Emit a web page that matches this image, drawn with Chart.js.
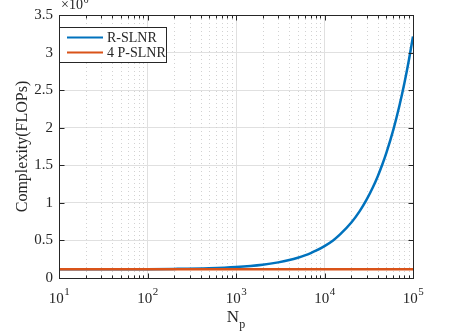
<!DOCTYPE html>
<html>
<head>
<meta charset="utf-8">
<script src="https://cdn.jsdelivr.net/npm/chart.js@4"></script>
<style>
html, body { margin: 0; padding: 0; background: #fff; }
#wrap { width: 457px; height: 334px; }
</style>
</head>
<body>
<div id="wrap"><canvas id="complexityChart" width="457" height="334"></canvas></div>
<script>
// N_p sample points
const npValues = [10, 20, 50, 100, 200, 500, 1000, 2000, 3000, 4000, 5000, 6000, 7000, 8000,
    10000, 12500, 15000, 20000, 25000, 30000, 35000, 40000, 45000, 50000,
    60000, 70000, 80000, 90000, 100000];
// complexity in units of 10^6 FLOPs
const rSlnr = [0.115, 0.116, 0.117, 0.118, 0.121, 0.130, 0.146, 0.177, 0.208, 0.239, 0.270, 0.301, 0.332, 0.363,
    0.425, 0.500, 0.580, 0.735, 0.890, 1.045, 1.200, 1.355, 1.510, 1.665,
    1.975, 2.285, 2.595, 2.905, 3.215];
const pSlnr = [0.115, 0.115, 0.115, 0.115, 0.115, 0.115, 0.115, 0.115, 0.115, 0.115, 0.115, 0.115, 0.115, 0.115,
    0.115, 0.115, 0.115, 0.115, 0.115, 0.115, 0.115, 0.115, 0.115, 0.115,
    0.115, 0.115, 0.115, 0.115, 0.115];
const seriesNames = ['R-SLNR', '4 P-SLNR'];
const seriesColors = ['#0072BD', '#D95319'];
const xDecades = [10, 100, 1000, 10000, 100000];
const xExponents = ['1', '2', '3', '4', '5'];
const yTickStep = 0.5;

const SERIF = '"Liberation Serif", "DejaVu Serif", serif';
const AXIS_COLOR = '#262626';

function toPoints(values) {
    return npValues.map((n, i) => ({ x: n, y: values[i] }));
}

// draws box, ticks, minor grid, labels and the legend
const matlabLook = {
    id: 'matlabLook',
    beforeDraw(chart) {
        const ctx = chart.ctx;
        ctx.save();
        ctx.fillStyle = '#fff';
        ctx.fillRect(0, 0, chart.width, chart.height);
        ctx.restore();
    },
    beforeDatasetsDraw(chart) {
        const ctx = chart.ctx;
        const xs = chart.scales.x;
        const a = chart.chartArea;
        ctx.save();
        ctx.strokeStyle = '#d2d2d2';
        ctx.lineWidth = 1;
        ctx.setLineDash([1, 3]);
        xDecades.slice(0, -1).forEach(d => {
            for (let k = 2; k <= 9; k++) {
                const px = Math.round(xs.getPixelForValue(k * d)) + 0.5;
                ctx.beginPath();
                ctx.moveTo(px, a.top);
                ctx.lineTo(px, a.bottom);
                ctx.stroke();
            }
        });
        ctx.restore();
    },
    afterDraw(chart) {
        const ctx = chart.ctx;
        const xs = chart.scales.x;
        const ys = chart.scales.y;
        const a = chart.chartArea;
        const L = Math.round(a.left) + 0.5, R = Math.round(a.right) + 0.5;
        const T = Math.round(a.top) + 0.5, B = Math.round(a.bottom) + 0.5;

        ctx.save();
        ctx.strokeStyle = AXIS_COLOR;
        ctx.lineWidth = 1;
        ctx.setLineDash([]);
        ctx.strokeRect(L, T, R - L, B - T);

        // x ticks (major + minor), bottom and top, pointing inward
        ctx.beginPath();
        xDecades.forEach((d, i) => {
            const px = Math.round(xs.getPixelForValue(d)) + 0.5;
            ctx.moveTo(px, B); ctx.lineTo(px, B - 5);
            ctx.moveTo(px, T); ctx.lineTo(px, T + 5);
            if (i < xDecades.length - 1) {
                for (let k = 2; k <= 9; k++) {
                    const mx = Math.round(xs.getPixelForValue(k * d)) + 0.5;
                    ctx.moveTo(mx, B); ctx.lineTo(mx, B - 3);
                    ctx.moveTo(mx, T); ctx.lineTo(mx, T + 3);
                }
            }
        });
        // y ticks, left and right
        ys.ticks.forEach(t => {
            const py = Math.round(ys.getPixelForValue(t.value)) + 0.5;
            ctx.moveTo(L, py); ctx.lineTo(L + 5, py);
            ctx.moveTo(R, py); ctx.lineTo(R - 5, py);
        });
        ctx.stroke();

        // x tick labels 10^n
        ctx.fillStyle = AXIS_COLOR;
        ctx.textBaseline = 'alphabetic';
        ctx.textAlign = 'left';
        xDecades.forEach((d, i) => {
            const px = xs.getPixelForValue(d);
            ctx.font = '15px ' + SERIF;
            const wBase = ctx.measureText('10').width;
            ctx.font = '11px ' + SERIF;
            const wSup = ctx.measureText(xExponents[i]).width;
            const x0 = px - (wBase + wSup) / 2;
            ctx.font = '15px ' + SERIF;
            ctx.fillText('10', x0, 303);
            ctx.font = '11px ' + SERIF;
            ctx.fillText(xExponents[i], x0 + wBase + 0.5, 295);
        });

        // x axis title N_p
        ctx.font = '17px ' + SERIF;
        const wN = ctx.measureText('N').width;
        ctx.font = '12px ' + SERIF;
        const wP = ctx.measureText('p').width;
        const xc = (a.left + a.right) / 2;
        const nx = xc - (wN + wP) / 2;
        ctx.font = '17px ' + SERIF;
        ctx.fillText('N', nx, 322);
        ctx.font = '12px ' + SERIF;
        ctx.fillText('p', nx + wN, 328);

        // y axis title
        ctx.save();
        ctx.translate(23, (a.top + a.bottom) / 2);
        ctx.rotate(-Math.PI / 2);
        ctx.textAlign = 'center';
        ctx.textBaseline = 'middle';
        ctx.font = '16px ' + SERIF;
        ctx.fillText('Complexity(FLOPs)', 0, 0);
        ctx.restore();

        // exponent multiplier x10^6
        ctx.textAlign = 'left';
        ctx.font = '14px ' + SERIF;
        ctx.fillText('\u00d710', 61, 9);
        const wx = ctx.measureText('\u00d710').width;
        ctx.font = '10px ' + SERIF;
        ctx.fillText('6', 61 + wx + 0.5, 3);

        // legend
        const lx = L, ly = 27.5, lw = 107, lh = 35;
        ctx.fillStyle = '#fff';
        ctx.fillRect(lx, ly, lw, lh);
        ctx.strokeStyle = AXIS_COLOR;
        ctx.lineWidth = 1;
        ctx.strokeRect(lx, ly, lw, lh);
        ctx.font = '14px ' + SERIF;
        ctx.textBaseline = 'middle';
        seriesNames.forEach((name, i) => {
            const yy = 37.5 + i * 15;
            ctx.strokeStyle = seriesColors[i];
            ctx.lineWidth = 2;
            ctx.beginPath();
            ctx.moveTo(67, yy);
            ctx.lineTo(103, yy);
            ctx.stroke();
            ctx.fillStyle = AXIS_COLOR;
            ctx.fillText(name, 107, yy + 0.5);
        });
        ctx.restore();
    }
};

new Chart(document.getElementById('complexityChart'), {
    type: 'line',
    data: {
        datasets: [
            {
                label: seriesNames[0],
                data: toPoints(rSlnr),
                borderColor: seriesColors[0],
                borderWidth: 2.5,
                pointRadius: 0,
                cubicInterpolationMode: 'monotone',
                fill: false,
                order: 2
            },
            {
                label: seriesNames[1],
                data: toPoints(pSlnr),
                borderColor: seriesColors[1],
                borderWidth: 2.5,
                pointRadius: 0,
                fill: false,
                order: 1
            }
        ]
    },
    options: {
        responsive: false,
        animation: false,
        devicePixelRatio: 1,
        layout: { padding: { top: 14, right: 44, left: 0, bottom: 0 } },
        plugins: { legend: { display: false }, tooltip: { enabled: false } },
        scales: {
            x: {
                type: 'logarithmic',
                min: 10,
                max: 100000,
                afterBuildTicks: scale => { scale.ticks = xDecades.map(v => ({ value: v })); },
                afterFit: scale => { scale.height = 56; },
                ticks: { display: false },
                border: { display: false },
                grid: { color: '#e0e0e0', drawTicks: false }
            },
            y: {
                min: 0,
                max: 3.5,
                afterFit: scale => { scale.width = 59; },
                ticks: {
                    stepSize: yTickStep,
                    color: AXIS_COLOR,
                    padding: 6,
                    font: { family: SERIF, size: 15 },
                    callback: v => String(v)
                },
                border: { display: false },
                grid: { color: '#e0e0e0', drawTicks: false }
            }
        }
    },
    plugins: [matlabLook]
});
</script>
</body>
</html>
